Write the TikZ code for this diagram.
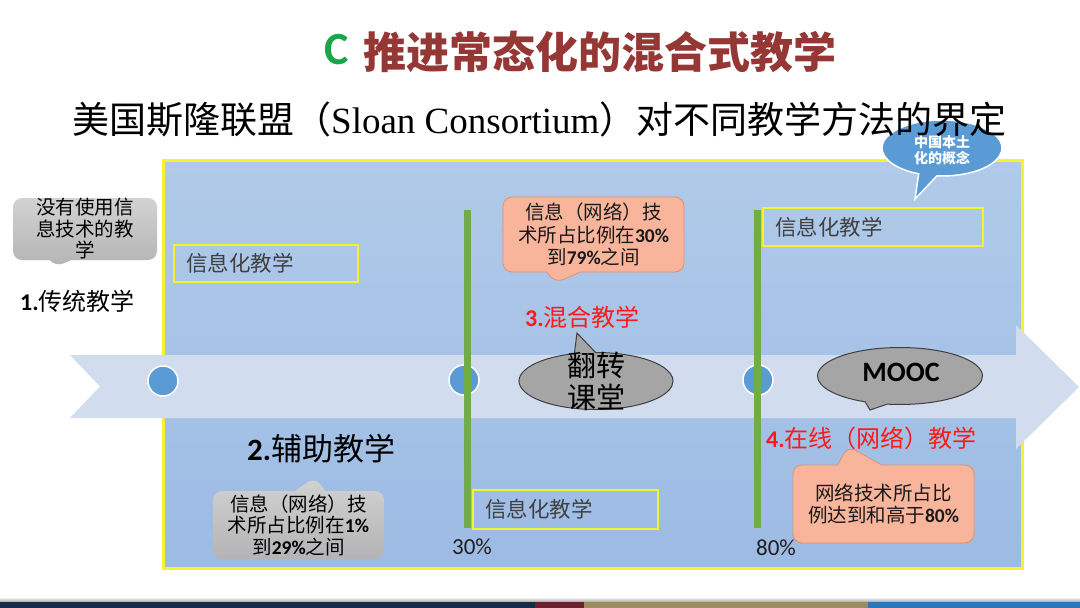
\documentclass[tikz,border=0pt]{standalone}
\usepackage{fontspec}
\setmainfont{Liberation Serif}
\newfontfamily\cjk{Noto Sans CJK SC}
\newfontfamily\calib{Carlito}
\usetikzlibrary{shapes.callouts,shapes.geometric}
\definecolor{titlered}{HTML}{953735}
\definecolor{titlegreen}{HTML}{1BA549}
\definecolor{panelTop}{HTML}{B1CAE9}
\definecolor{panelBot}{HTML}{9CBBE4}
\definecolor{bandc}{HTML}{D1DDEE}
\definecolor{dotc}{HTML}{5B9BD5}
\definecolor{greenl}{HTML}{70AD47}
\definecolor{yellowc}{HTML}{F4F42E}
\definecolor{orangef}{HTML}{F8B59B}
\definecolor{oranged}{HTML}{E3906E}
\definecolor{txtgray}{HTML}{404040}
\definecolor{ellgray}{HTML}{A5A5A5}
\definecolor{ellline}{HTML}{3F3F3F}
\definecolor{grayTop}{HTML}{D2D2D2}
\definecolor{grayBot}{HTML}{B4B4B4}
\definecolor{redtxt}{HTML}{FF1A1A}
\definecolor{barnavy}{HTML}{15294A}
\definecolor{barred}{HTML}{6E1F2D}
\definecolor{bartan}{HTML}{9F8A59}
\definecolor{barblue}{HTML}{2F77B4}
\begin{document}
\begin{tikzpicture}[x=1pt,y=-1pt,
  ybox/.style={draw=yellowc, line width=2.5, inner xsep=12, inner ysep=0, align=left,
    text=txtgray, font=\cjk\fontsize{21.5}{22}\selectfont},
  dot/.style={circle, fill=dotc, draw=white, line width=1.5, minimum size=30, inner sep=0},
  greenline/.style={greenl, line width=7},
  graycall/.style={rectangle callout, rounded corners=9, top color=grayTop, bottom color=grayBot,
    align=center, inner sep=0, text=black, font=\cjk\fontsize{19.5}{21.5}\selectfont},
  orangecall/.style={rectangle callout, rounded corners=9, fill=orangef, draw=oranged, line width=0.8,
    align=center, inner sep=0, text=black!90, font=\cjk\fontsize{19.5}{22.5}\selectfont},
  ellcall/.style={ellipse callout, fill=ellgray, draw=ellline, line width=1, inner sep=0},
  lbl/.style={anchor=west, inner sep=0}
]
\useasboundingbox (0,0) rectangle (1080,608);
\fill[white] (0,0) rectangle (1080,608);

% title
\node[lbl, text=titlegreen, font=\calib\bfseries\fontsize{46}{46}\selectfont] (titleC) at (324,50) {C};
\node[lbl, text=titlered, font=\cjk\bfseries\fontsize{43}{43}\selectfont] (title) at (363,52) {推进常态化的混合式教学};

% panel
\draw[yellowc, line width=3, top color=panelTop, bottom color=panelBot] (163,160) rectangle (1022,568);

% band arrow
\fill[bandc] (70,355) -- (1016,355) -- (1016,325) -- (1079,387) -- (1016,449) -- (1016,418)
  -- (70,418) -- (100,386.5) -- cycle;

% blue speech ellipse
\node[ellipse callout, fill=dotc, draw=white, line width=1.5, minimum width=120, minimum height=56,
  inner sep=0, callout absolute pointer={(915,199)}, callout pointer arc=18] (cn) at (942,148) {};
\node[text=white, font=\cjk\bfseries\fontsize{14}{16}\selectfont, align=center, inner sep=0]
  (cnt) at (942,150) {中国本土\\化的概念};

% subtitle
\node[lbl, font=\fontsize{37}{37}\selectfont] (subtitle) at (72,119)
  {{\cjk 美国斯隆联盟（}Sloan Consortium{\cjk ）对不同教学方法的界定}};

% yellow boxes
\node[ybox, text width=160, minimum width=184, minimum height=37] (box1) at (266,263.5) {信息化教学};
\node[ybox, text width=161, minimum width=185, minimum height=39] (box2) at (565.5,509.5) {信息化教学};
\node[ybox, text width=196, minimum width=220, minimum height=38] (box3) at (873,227) {信息化教学};

% dots
\node[dot] (d1) at (163,381) {};
\node[dot] (d2) at (464,380) {};
\node[dot] (d3) at (758,380) {};

% green lines
\coordinate (g1t) at (467.5,210);
\coordinate (g1b) at (467.5,528);
\coordinate (g2t) at (757,210);
\coordinate (g2b) at (757,528);
\draw[greenline] (g1t) -- (g1b);
\draw[greenline] (g2t) -- (g2b);

% callouts
\node[graycall, minimum width=144, minimum height=62, callout absolute pointer={(55,267)},
  callout pointer width=22] (c1) at (85,229) {没有使用信\\息技术的教\\学};
\node[orangecall, minimum width=181, minimum height=75, callout absolute pointer={(555,283)},
  callout pointer width=34] (c2) at (593.5,234.5)
  {信息（网络）技\\术所占比例在{\calib\bfseries 30\%}\\到{\calib\bfseries 79\%}之间};
\node[orangecall, minimum width=181, minimum height=78, callout absolute pointer={(848,446)},
  callout pointer width=44] (c3) at (883.5,504)
  {网络技术所占比\\例达到和高于{\calib\bfseries 80\%}};
\node[graycall, minimum width=171, minimum height=68, callout absolute pointer={(315,477)},
  callout pointer width=30] (c4) at (298.5,525)
  {信息（网络）技\\术所占比例在{\calib\bfseries 1\%}\\到{\calib\bfseries 29\%}之间};

% ellipse callouts
\node[ellcall, minimum width=154, minimum height=57, callout absolute pointer={(577,333)},
  callout pointer arc=16] (e1) at (596,381) {};
\node[font=\cjk\fontsize{29}{32}\selectfont, align=center, inner sep=0] (e1t) at (596,381) {翻转\\课堂};
\node[ellcall, minimum width=165, minimum height=57, callout absolute pointer={(870,410)},
  callout pointer arc=16] (e2) at (900,376) {};
\node[font=\calib\bfseries\fontsize{28}{28}\selectfont, inner sep=0] (e2t) at (901,372) {MOOC};

% labels
\node[lbl, font=\fontsize{24}{24}\selectfont] (l1) at (20,301) {{\calib\bfseries 1.}{\cjk 传统教学}};
\node[lbl, font=\fontsize{31}{31}\selectfont] (l2) at (247,449) {{\calib\bfseries 2.}{\cjk 辅助教学}};
\node[lbl, text=redtxt, font=\fontsize{24}{24}\selectfont] (l3) at (525,317) {{\calib\bfseries 3.}{\cjk 混合教学}};
\node[lbl, text=redtxt, font=\fontsize{24}{24}\selectfont] (l4) at (766,438) {{\calib\bfseries 4.}{\cjk 在线（网络）教学}};
\node[font=\calib\fontsize{23}{23}\selectfont, text=black!88, inner sep=0] (p30) at (472,547) {30\%};
\node[font=\calib\fontsize{23}{23}\selectfont, text=black!88, inner sep=0] (p80) at (776,548) {80\%};

% bottom bar
\shade[top color=white, bottom color=black!35] (0,597) rectangle (1080,602);
\fill[barnavy] (0,602) rectangle (535,608);
\fill[barred] (535,602) rectangle (584,608);
\fill[bartan] (584,602) rectangle (868,608);
\fill[barblue] (868,602) rectangle (1080,608);
\end{tikzpicture}
\end{document}
